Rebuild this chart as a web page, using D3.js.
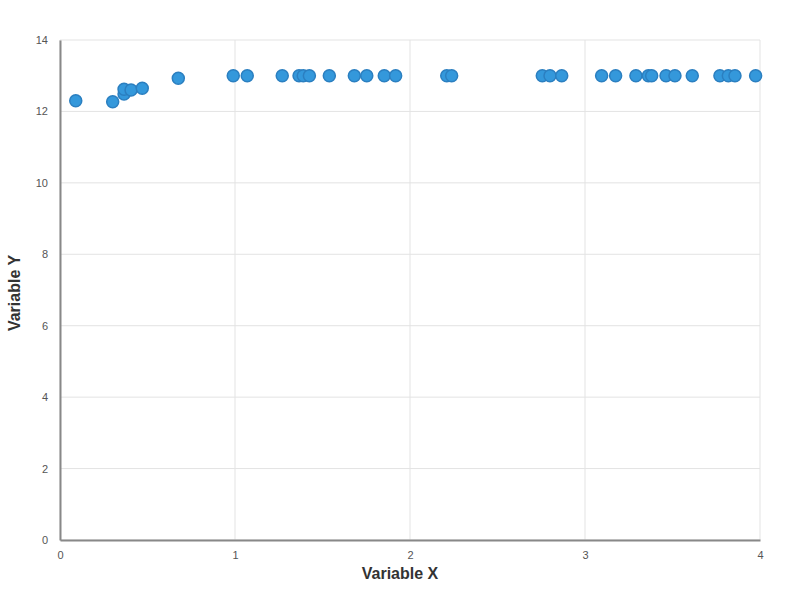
<!DOCTYPE html>
<html><head><meta charset="utf-8">
<script src="https://cdn.jsdelivr.net/npm/d3@7"></script>
<style>body{margin:0;background:#fff;}svg{display:block;font-family:"Liberation Sans",Arial,sans-serif;}</style>
</head><body>
<svg id="chart" width="800" height="600"></svg>
<script>
const xValues = [0.090,0.301,0.366,0.366,0.406,0.470,0.676,0.990,1.070,1.270,1.366,1.390,1.425,1.539,1.682,1.753,1.853,1.918,2.210,2.238,2.756,2.800,2.867,3.095,3.175,3.291,3.362,3.381,3.463,3.514,3.613,3.771,3.819,3.857,3.975];
const yValues = [12.30,12.27,12.49,12.62,12.60,12.65,12.93,13,13,13,13,13,13,13,13,13,13,13,13,13,13,13,13,13,13,13,13,13,13,13,13,13,13,13,13];
const xTicks = [0,1,2,3,4];
const yTicks = [0,2,4,6,8,10,12,14];
const xTitle = "Variable X";
const yTitle = "Variable Y";

const svg = d3.select("#chart");
const m = {l:60, r:40, t:40, b:60};
const W = 800, H = 600;
const x = d3.scaleLinear().domain([0,4]).range([m.l, W-m.r]);
const y = d3.scaleLinear().domain([0,14]).range([H-m.b, m.t]);

// grid
svg.append("g").selectAll("line").data(xTicks).join("line")
  .attr("x1", d=>x(d)).attr("x2", d=>x(d)).attr("y1", y(0)).attr("y2", y(14))
  .attr("stroke", "#e3e3e3").attr("stroke-width", 1);
svg.append("g").selectAll("line").data(yTicks).join("line")
  .attr("x1", x(0)).attr("x2", x(4)).attr("y1", d=>y(d)).attr("y2", d=>y(d))
  .attr("stroke", "#e3e3e3").attr("stroke-width", 1);

// axes
const xAxis = svg.append("g").attr("transform", `translate(0,${y(0)})`)
  .call(d3.axisBottom(x).tickValues(xTicks).tickFormat(d3.format("d")).tickSize(0).tickPadding(11));
const yAxis = svg.append("g").attr("transform", `translate(${x(0)},0)`)
  .call(d3.axisLeft(y).tickValues(yTicks).tickFormat(d3.format("d")).tickSize(0).tickPadding(12));
[xAxis, yAxis].forEach(g=>{
  g.select(".domain").attr("stroke", "#888").attr("stroke-width", 2);
  g.selectAll("text").attr("fill", "#555").style("font-size", "11px").style("font-family", "Liberation Sans, Arial, sans-serif");
});

// points
svg.append("g").selectAll("circle").data(xValues.map((v,i)=>[v,yValues[i]])).join("circle")
  .attr("cx", d=>x(d[0])).attr("cy", d=>y(d[1])).attr("r", 6)
  .attr("fill", "#3498db").attr("stroke", "#2b7fc0").attr("stroke-width", 1.5);

// titles
svg.append("text").attr("x", W/2).attr("y", 579).attr("text-anchor", "middle")
  .attr("fill", "#333").style("font-size", "16px").style("font-weight", "bold").text(xTitle);
svg.append("text").attr("transform", `translate(20,293) rotate(-90)`).attr("text-anchor", "middle")
  .attr("fill", "#333").style("font-size", "16px").style("font-weight", "bold").text(yTitle);
</script>
</body></html>
